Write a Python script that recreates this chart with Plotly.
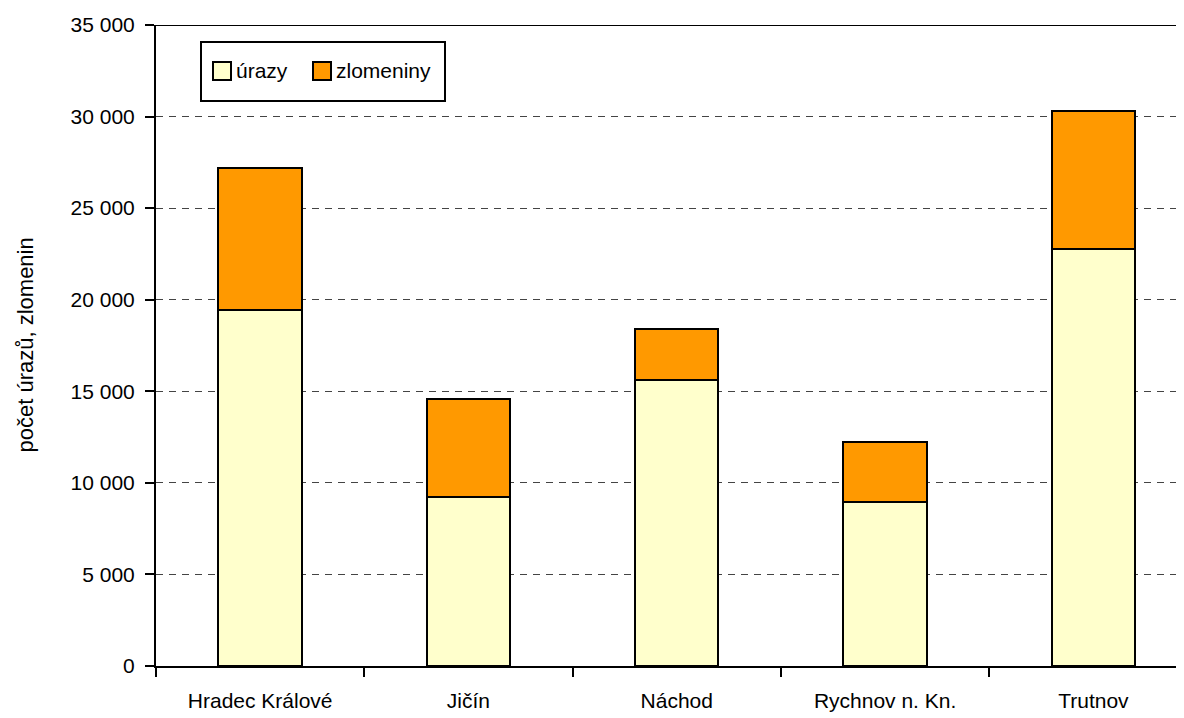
import plotly.graph_objects as go

categories = ["Hradec Králové", "Jičín", "Náchod", "Rychnov n. Kn.", "Trutnov"]
urazy = [19450, 9230, 15620, 8960, 22770]
zlomeniny = [7740, 5350, 2780, 3270, 7540]
y_ticks = [0, 5000, 10000, 15000, 20000, 25000, 30000, 35000]
series_names = ["úrazy", "zlomeniny"]
series_colors = ["#FFFFCC", "#FF9900"]

FONT = "Liberation Sans, Arial, sans-serif"

# page body has an 8px margin, so the figure is drawn offset by 8px
OFF = 8
# plot-area pixel geometry on screen
L, T, W, H = 156, 25, 1028, 641
def px(x):
    return (x - L) / W
def py(y):
    return 1 - (y - T) / H

fig = go.Figure()
for name, vals, col in zip(series_names, [urazy, zlomeniny], series_colors):
    fig.add_trace(go.Bar(x=categories, y=vals, name=name,
                         marker=dict(color=col, line=dict(color="black", width=2))))

shapes = [dict(type="line", xref="paper", yref="y", x0=0, x1=1, y0=35000, y1=35000,
               line=dict(color="black", width=2)),
          dict(type="rect", xref="paper", yref="paper", x0=px(201), x1=px(445),
               y0=py(101), y1=py(42), line=dict(color="black", width=2), fillcolor="white",
               layer="above")]
annotations = [dict(text="počet úrazů, zlomenin", xref="paper", yref="paper",
                    x=px(25), y=0.5, textangle=-90, showarrow=False,
                    font=dict(size=22), xanchor="center", yanchor="middle")]
sw_x = [213, 313]
for i, (name, col) in enumerate(zip(series_names, series_colors)):
    shapes.append(dict(type="rect", xref="paper", yref="paper", x0=px(sw_x[i]), x1=px(sw_x[i] + 18),
                       y0=py(80), y1=py(62), line=dict(color="black", width=2), fillcolor=col,
                       layer="above"))
    annotations.append(dict(text=name, xref="paper", yref="paper", x=px(sw_x[i] + 21), y=py(71),
                            xanchor="left", yanchor="middle", showarrow=False,
                            font=dict(size=21)))

fig.update_layout(
    width=1184, height=718,
    barmode="stack", bargap=0.6,
    margin=dict(l=L - OFF, r=1184 - (L + W - OFF), t=T - OFF, b=718 - (T + H - OFF)),
    paper_bgcolor="white", plot_bgcolor="white",
    separators=", ",
    font=dict(family=FONT, size=21, color="black"),
    showlegend=False,
    xaxis=dict(range=[-0.5, 4.435], showline=True, linecolor="black", linewidth=2,
               ticks="outside", ticklen=9, tickwidth=2, tickcolor="black",
               tickson="boundaries", showgrid=False, ticklabelstandoff=15,
               tickfont=dict(size=21), automargin=False),
    yaxis=dict(range=[0, 35000], tickvals=y_ticks, tickformat=",.0f",
               showline=True, linecolor="black", linewidth=2,
               ticks="outside", ticklen=9, tickwidth=2, tickcolor="black",
               showgrid=True, gridcolor="#444444", gridwidth=1, griddash="7px,6px",
               zeroline=False, tickfont=dict(size=21), automargin=False,
               ticklabelstandoff=6),
    shapes=shapes,
    annotations=annotations,
)

fig.write_html("out.html")
